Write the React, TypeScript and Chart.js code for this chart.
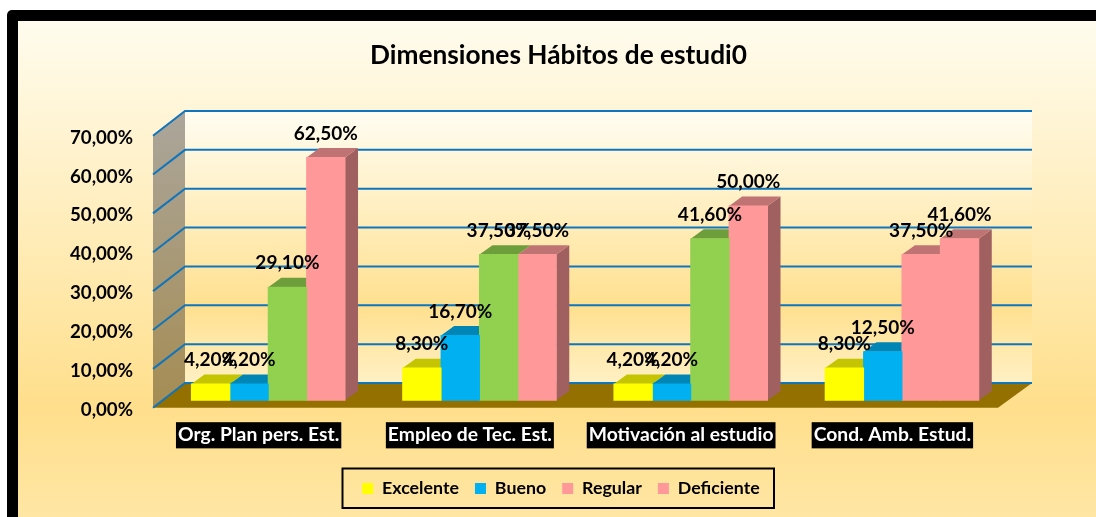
import React, { useEffect, useRef } from "react";
import { Chart, registerables } from "chart.js";

Chart.register(...registerables);

const categories = ["Org. Plan pers. Est.", "Empleo de Tec. Est.", "Motivación al estudio", "Cond. Amb. Estud."];
const seriesNames = ["Excelente", "Bueno", "Regular", "Deficiente"];
const excelente = [4.2, 8.3, 4.2, 8.3];
const bueno = [4.2, 16.7, 4.2, 12.5];
const regular = [29.1, 37.5, 41.6, 37.5];
const deficiente = [62.5, 37.5, 50.0, 41.6];

const YELLOW = "#FFFF00", BLUE = "#00B0F0", GREEN = "#92D050", PINK = "#FF9999";
const legendColors = [YELLOW, BLUE, PINK, PINK];
const regularColors = [GREEN, GREEN, GREEN, PINK];
const TOPS: Record<string, string> = { [YELLOW]: "#C4C400", [BLUE]: "#0085B5", [GREEN]: "#6E9D3C", [PINK]: "#C07373" };
const SIDES: Record<string, string> = { [YELLOW]: "#A0A000", [BLUE]: "#006E96", [GREEN]: "#5A8032", [PINK]: "#A06060" };

const FONT = "Lato, 'Open Sans', sans-serif";
const fmt = (v: number) => v.toFixed(2).replace(".", ",") + "%";

// Layout geometry of the pseudo-3D box
const AREA_LEFT = 153, AREA_TOP = 135.7, AREA_BOTTOM = 406.7, AREA_RIGHT = 998;
const WALL_DX = 33, WALL_DY = 24.7;
const BAR_DX = 9.6, BAR_DY = 7.4;
const FACE_DX = 13, FACE_DY = 9.4;

const poly = (ctx: CanvasRenderingContext2D, pts: number[][], fill: string | CanvasGradient) => {
  ctx.beginPath();
  pts.forEach((p, i) => (i ? ctx.lineTo(p[0], p[1]) : ctx.moveTo(p[0], p[1])));
  ctx.closePath();
  ctx.fillStyle = fill;
  ctx.fill();
};

const box3d = {
  id: "box3d",
  afterLayout(chart: any) {
    // the title and the legend are not centred on the canvas in the reference
    const place = (b: any, cx: number) => {
      if (!b) return;
      const shift = cx - (b.left + b.right) / 2;
      b.left += shift;
      b.right += shift;
    };
    place(chart.titleBlock, 558.5);
    place(chart.legend, 561);
  },
  beforeDraw(chart: any) {
    const { ctx, width, height, chartArea: a, scales } = chart;
    ctx.save();
    ctx.fillStyle = "#FFFFFF";
    ctx.fillRect(0, 0, width, height);
    ctx.fillStyle = "#000000";
    ctx.beginPath();
    ctx.roundRect(7, 10, width + 20, height + 20, 5);
    ctx.fill();
    const bg = ctx.createLinearGradient(0, 21, 0, height);
    bg.addColorStop(0, "#FFFCEE");
    bg.addColorStop(0.78, "#FFDF8C");
    bg.addColorStop(1, "#FFE6A4");
    ctx.fillStyle = bg;
    ctx.fillRect(18, 21, width, height);

    const yS = scales.y;
    const y0 = yS.getPixelForValue(0), yMax = yS.getPixelForValue(70);
    const bx = a.left + WALL_DX - 1, bxR = a.right + WALL_DX + 1;
    // back wall
    const wall = ctx.createLinearGradient(0, yMax - WALL_DY, 0, y0 - WALL_DY);
    wall.addColorStop(0, "#FFFDF2");
    wall.addColorStop(0.72, "#FFE08F");
    wall.addColorStop(1, "#FFF0C4");
    ctx.fillStyle = wall;
    ctx.fillRect(bx, yMax - WALL_DY, bxR - bx, y0 - yMax);
    // left wall
    const side = ctx.createLinearGradient(0, yMax - WALL_DY, 0, y0);
    side.addColorStop(0, "#ABA69C");
    side.addColorStop(1, "#A58C52");
    poly(ctx, [[a.left, yMax], [bx, yMax - WALL_DY], [bx, y0 - WALL_DY], [a.left, y0]], side);
    // floor
    poly(ctx, [[a.left, y0], [a.right, y0], [bxR, y0 - WALL_DY], [bx, y0 - WALL_DY]], "#937000");
    // grid lines: depth part and back-wall part for every tick of the value axis
    ctx.strokeStyle = "#0F75BD";
    ctx.lineWidth = 2;
    yS.ticks.forEach((t: any) => {
      const y = yS.getPixelForValue(t.value);
      ctx.beginPath();
      ctx.moveTo(a.left, y);
      ctx.lineTo(bx, y - WALL_DY);
      ctx.lineTo(bxR, y - WALL_DY);
      ctx.stroke();
    });
    ctx.restore();
  },
  beforeDatasetsDraw(chart: any) {
    const { ctx } = chart;
    ctx.save();
    ctx.translate(BAR_DX, -BAR_DY);
    // side and top faces, series by series from left to right; the front faces follow on top
    const count = chart.data.datasets.length;
    chart.data.datasets.forEach((ds: any, di: number) => {
      chart.getDatasetMeta(di).data.forEach((bar: any, i: number) => {
        const c = Array.isArray(ds.backgroundColor) ? ds.backgroundColor[i] : ds.backgroundColor;
        const l = bar.x - bar.width / 2, r = bar.x + bar.width / 2;
        // a side face is only seen when the next bar of the group does not hide it
        const next = di < count - 1 ? chart.data.datasets[di + 1].data[i] : -Infinity;
        if (next < ds.data[i]) {
          poly(ctx, [[r, bar.y], [r + FACE_DX, bar.y - FACE_DY], [r + FACE_DX, bar.base - FACE_DY], [r, bar.base]], SIDES[c]);
        }
        poly(ctx, [[l, bar.y], [l + FACE_DX, bar.y - FACE_DY], [r + FACE_DX, bar.y - FACE_DY], [r, bar.y]], TOPS[c]);
      });
    });
  },
  afterDatasetsDraw(chart: any) {
    const { ctx } = chart;
    ctx.textAlign = "center";
    ctx.textBaseline = "middle";
    ctx.fillStyle = "#000000";
    ctx.font = `bold 19px ${FONT}`;
    chart.data.datasets.forEach((ds: any, di: number) => {
      chart.getDatasetMeta(di).data.forEach((bar: any, i: number) => {
        ctx.fillText(fmt(ds.data[i]), bar.x, bar.y - 24);
      });
    });
    ctx.restore();
  },
  afterDraw(chart: any) {
    const { ctx } = chart;
    ctx.save();
    ctx.strokeStyle = "#000000";
    ctx.lineWidth = 2;
    ctx.strokeRect(342.5, 468.5, 431.5, 39.5);
    ctx.restore();
  },
};

export default function App() {
  const ref = useRef<HTMLCanvasElement>(null);
  useEffect(() => {
    const mk = (label: string, data: number[], backgroundColor: any) => ({
      label, data, backgroundColor, borderWidth: 0, inflateAmount: 0.5, clip: false as const,
      barPercentage: 1, categoryPercentage: 0.727,
    });
    const chart = new Chart(ref.current!, {
      type: "bar",
      data: {
        labels: categories,
        datasets: [
          mk(seriesNames[0], excelente, YELLOW),
          mk(seriesNames[1], bueno, BLUE),
          mk(seriesNames[2], regular, regularColors),
          mk(seriesNames[3], deficiente, PINK),
        ],
      },
      plugins: [box3d],
      options: {
        animation: false,
        responsive: false,
        layout: { autoPadding: false, padding: { left: 0, top: 0, right: 1096 - AREA_RIGHT, bottom: 9.6 } },
        scales: {
          x: {
            offset: true,
            grid: { display: false },
            border: { display: false },
            afterFit(s: any) { s.height = 55.9; },
            ticks: {
              color: "#FFFFFF",
              font: { family: FONT, size: 19.3, weight: "bold", lineHeight: 1.2 },
              maxRotation: 0,
              autoSkip: false,
              padding: 8,
              showLabelBackdrop: true,
              backdropColor: "#000000",
              backdropPadding: { x: 2, y: 1.5 },
            },
          },
          y: {
            min: 0,
            max: 70,
            grid: { display: false },
            border: { display: false },
            afterFit(s: any) { s.width = AREA_LEFT; },
            ticks: {
              stepSize: 10,
              color: "#000000",
              padding: 12,
              labelOffset: 2,
              font: { family: FONT, size: 18.7, weight: "bold" },
              callback: (v: any) => fmt(Number(v)),
            },
          },
        },
        plugins: {
          title: {
            display: true,
            text: "Dimensiones Hábitos de estudi0",
            color: "#000000",
            font: { family: FONT, size: 26.25, weight: "bold", lineHeight: 1.2 },
            padding: { top: 40, bottom: AREA_TOP - 40 - 31.5 },
          },
          legend: {
            position: "bottom",
            labels: {
              color: "#000000",
              font: { family: FONT, size: 17.8, weight: "bold" },
              boxWidth: 11,
              boxHeight: 11,
              padding: 16,
              generateLabels: () =>
                seriesNames.map((text, i) => ({
                  text, fillStyle: legendColors[i], strokeStyle: legendColors[i], lineWidth: 0, datasetIndex: i, fontColor: "#000000",
                })),
            },
          },
          tooltip: { enabled: false },
        },
      },
    } as any);
    return () => chart.destroy();
  }, []);
  return (
    <div style={{ position: "fixed", left: 0, top: 0, width: 1096, height: 517 }}>
      <canvas ref={ref} width={1096} height={517} style={{ display: "block" }} />
    </div>
  );
}
